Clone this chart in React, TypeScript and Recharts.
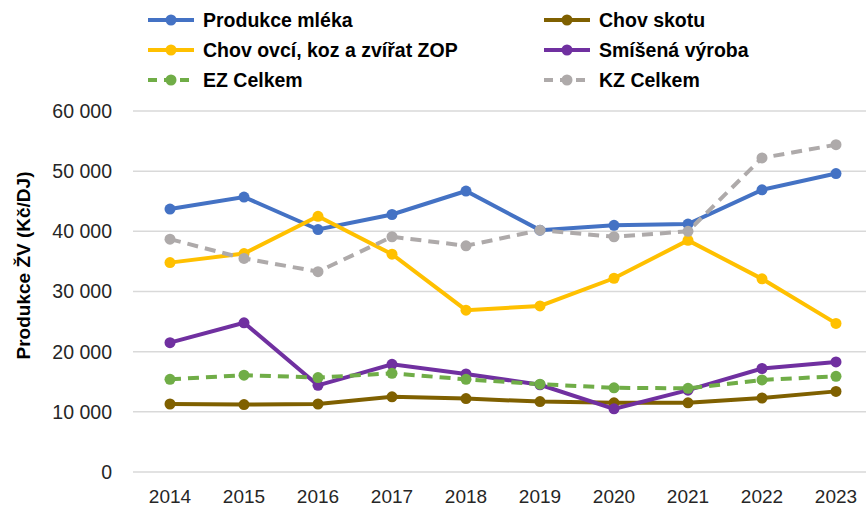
import { LineChart, Line, XAxis, YAxis, CartesianGrid } from 'recharts'

const years = ['2014', '2015', '2016', '2017', '2018', '2019', '2020', '2021', '2022', '2023']

const mleko = [43700, 45700, 40300, 42800, 46700, 40200, 41000, 41200, 46900, 49600]
const skot = [11300, 11200, 11300, 12500, 12200, 11700, 11500, 11500, 12300, 13400]
const ovce = [34800, 36300, 42500, 36200, 26900, 27600, 32200, 38500, 32100, 24700]
const smisena = [21500, 24800, 14400, 17900, 16300, 14500, 10500, 13600, 17200, 18300]
const ezCelkem = [15400, 16100, 15700, 16400, 15400, 14600, 14000, 13900, 15300, 15900]
const kzCelkem = [38700, 35500, 33300, 39100, 37600, 40200, 39100, 40000, 52200, 54400]

const yTicks = [0, 10000, 20000, 30000, 40000, 50000, 60000]

const series = [
  { key: 'mleko', name: 'Produkce mléka', color: '#4472C4', dashed: false },
  { key: 'skot', name: 'Chov skotu', color: '#7F6000', dashed: false },
  { key: 'ovce', name: 'Chov ovcí, koz a zvířat ZOP', color: '#FFC000', dashed: false },
  { key: 'smisena', name: 'Smíšená výroba', color: '#7030A0', dashed: false },
  { key: 'ez', name: 'EZ Celkem', color: '#70AD47', dashed: true },
  { key: 'kz', name: 'KZ Celkem', color: '#AEAAAA', dashed: true },
]

const data = years.map((year, i) => ({
  year,
  mleko: mleko[i],
  skot: skot[i],
  ovce: ovce[i],
  smisena: smisena[i],
  ez: ezCelkem[i],
  kz: kzCelkem[i],
}))

const FONT = '"Liberation Sans", Arial, sans-serif'
const fmt = (v: number) => (v === 0 ? '0' : `${Math.floor(v / 1000)} ${String(v % 1000).padStart(3, '0')}`)

function LegendIcon({ color, dashed }: { color: string; dashed: boolean }) {
  return (
    <svg width={48} height={14} style={{ display: 'block', marginRight: 8 }}>
      <line
        x1={1} y1={7} x2={47} y2={7}
        stroke={color} strokeWidth={4}
        strokeDasharray={dashed ? '9 7' : undefined}
      />
      <circle cx={24} cy={7} r={5.5} fill={color} />
    </svg>
  )
}

function TopLegend() {
  return (
    <div
      style={{
        position: 'absolute', left: 147, top: 5,
        display: 'grid', gridTemplateColumns: '396px 300px', gridAutoRows: '30px',
        fontFamily: FONT, fontWeight: 700, fontSize: 19.5, color: '#000',
      }}
    >
      {series.map(s => (
        <div key={s.key} style={{ display: 'flex', alignItems: 'center', whiteSpace: 'nowrap' }}>
          <LegendIcon color={s.color} dashed={s.dashed} />
          <span>{s.name}</span>
        </div>
      ))}
    </div>
  )
}

export default function App() {
  return (
    <div
      style={{
        position: 'absolute', left: 0, top: 0, width: 866, height: 507,
        overflow: 'hidden', background: '#fff',
      }}
    >
      <LineChart
        width={873}
        height={507}
        data={data}
        margin={{ top: 111, right: 0, bottom: 0, left: 0 }}
      >
        <CartesianGrid vertical={false} stroke="#D9D9D9" strokeWidth={1.5} />
        <XAxis
          dataKey="year"
          height={35}
          padding={{ left: 37, right: 37 }}
          axisLine={false}
          tickLine={false}
          tickSize={0}
          tickMargin={18}
          tick={{ fill: '#262626', fontSize: 19, fontFamily: FONT }}
        />
        <YAxis
          width={133}
          domain={[0, 60000]}
          ticks={yTicks}
          tickFormatter={fmt}
          axisLine={false}
          tickLine={false}
          tickSize={0}
          tickMargin={21}
          tick={{ fill: '#262626', fontSize: 19.5, fontFamily: FONT }}
          label={{
            content: (props: any) => {
              const vb = props.viewBox || { x: 0, y: 111, height: 361 }
              const cx = vb.x + 23
              const cy = vb.y + vb.height / 2 - 26
              return (
                <text
                  x={cx} y={cy}
                  transform={`rotate(-90 ${cx} ${cy})`}
                  textAnchor="middle"
                  dominantBaseline="central"
                  fontFamily={FONT}
                  fontWeight={700}
                  fontSize={19}
                  fill="#000"
                >
                  Produkce ŽV (Kč/DJ)
                </text>
              )
            },
          }}
        />
        {series.map(s => (
          <Line
            key={s.key}
            dataKey={s.key}
            name={s.name}
            stroke={s.color}
            strokeWidth={4}
            strokeDasharray={s.dashed ? '11 7' : undefined}
            dot={{ r: 5.5, fill: s.color, stroke: 'none', strokeDasharray: '' }}
            activeDot={false}
            isAnimationActive={false}
          />
        ))}
      </LineChart>
      <TopLegend />
    </div>
  )
}
